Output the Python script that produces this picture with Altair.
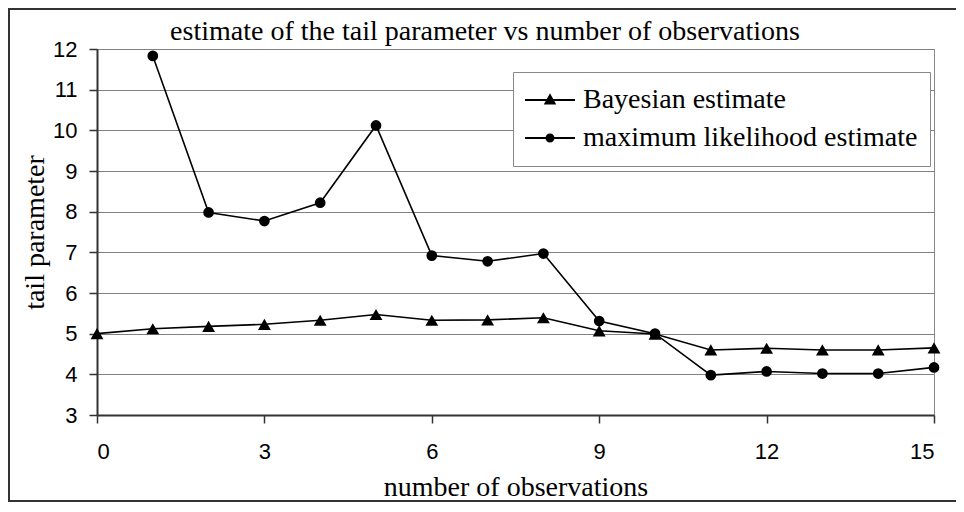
import altair as alt
import pandas as pd

observations = list(range(16))
bayesian = [5.0, 5.12, 5.18, 5.23, 5.33, 5.47, 5.33, 5.34, 5.39, 5.07, 4.99, 4.6, 4.64, 4.6, 4.6, 4.65]
mle = [None, 11.83, 7.98, 7.77, 8.22, 10.12, 6.92, 6.78, 6.97, 5.31, 5.0, 3.98, 4.07, 4.02, 4.02, 4.17]
series_names = ["Bayesian estimate", "maximum likelihood estimate"]
x_ticks = [0, 3, 6, 9, 12, 15]
y_ticks = [3, 4, 5, 6, 7, 8, 9, 10, 11, 12]
chart_title = "estimate of the tail parameter vs number of observations"

rows = []
for xv, b, m in zip(observations, bayesian, mle):
    rows.append({"n": xv, "value": b, "series": series_names[0]})
    if m is not None:
        rows.append({"n": xv, "value": m, "series": series_names[1]})
df = pd.DataFrame(rows)

tri_legend = "M-1,-0.04L1,-0.04L1,0.04L-1,0.04Z M0,-0.27L0.25,0.18L-0.25,0.18Z"
circ_legend = ("M-1,-0.04L1,-0.04L1,0.04L-1,0.04Z "
               "M-0.18,0A0.18,0.18,0,1,1,0.18,0A0.18,0.18,0,1,1,-0.18,0Z")

x_enc = alt.X("n:Q", scale=alt.Scale(domain=[0, 15], nice=False),
              axis=alt.Axis(values=x_ticks, title="number of observations", grid=False,
                            titleY=80, titleBaseline="alphabetic"))
y_enc = alt.Y("value:Q", scale=alt.Scale(domain=[3, 12], nice=False, zero=False),
              axis=alt.Axis(values=y_ticks, title="tail parameter", grid=True,
                            titleX=-54, titleBaseline="alphabetic"))

base = alt.Chart(df)

lines = base.mark_line(color="black", strokeWidth=1.6).encode(
    x=x_enc, y=y_enc, detail="series:N"
)
tri = base.transform_filter(alt.datum.series == series_names[0]).mark_point(
    shape="triangle-up", filled=True, color="black", opacity=1, size=165
).encode(x=x_enc, y=y_enc)
circ = base.transform_filter(alt.datum.series == series_names[1]).mark_point(
    shape="circle", filled=True, color="black", opacity=1, size=115
).encode(x=x_enc, y=y_enc)
legend_layer = base.transform_filter("datum.n < 0").mark_point(
    filled=True, color="black", opacity=1
).encode(
    x=x_enc, y=y_enc,
    shape=alt.Shape("series:N",
                    scale=alt.Scale(domain=series_names, range=[tri_legend, circ_legend]),
                    legend=alt.Legend(title=None, orient="none", legendX=416, legendY=23,
                                      padding=12, strokeColor="#888888", fillColor="white",
                                      labelFont="Liberation Serif", labelFontSize=28,
                                      labelColor="black", labelLimit=600, symbolSize=2500,
                                      symbolFillColor="black", symbolStrokeWidth=0,
                                      symbolOpacity=1, clipHeight=32, rowPadding=6,
                                      labelOffset=8))
)

one = pd.DataFrame({"label": [chart_title]})
frame = alt.Chart(one).mark_rect(
    fill=None, stroke="#333333", strokeWidth=2
).encode(x=alt.value(-88), x2=alt.value(1000), y=alt.value(-40), y2=alt.value(452))

title_text = alt.Chart(one).mark_text(
    font="Liberation Serif", fontSize=28, color="black", align="center",
    baseline="alphabetic"
).encode(text="label:N", x=alt.value(388), y=alt.value(-9))

chart = alt.layer(frame, title_text, lines, tri, circ, legend_layer).properties(
    width=837, height=366,
    padding={"left": 89, "top": 41, "right": 22, "bottom": 87},
    autosize=alt.AutoSizeParams(type="none"),
    background="white",
).configure_view(
    stroke="#888888", strokeWidth=1
).configure_axis(
    labelFont="Liberation Sans", labelFontSize=22, labelColor="black",
    titleFont="Liberation Serif", titleFontSize=28, titleFontWeight="normal",
    titleColor="black", domainColor="#333333", domainWidth=2, tickColor="#333333",
    tickSize=8, tickWidth=1.5, gridColor="#808080", gridWidth=1, labelPadding=12
).configure_axisX(labelPadding=18)

chart.save("out.html", embed_options={"renderer": "svg", "actions": False})
